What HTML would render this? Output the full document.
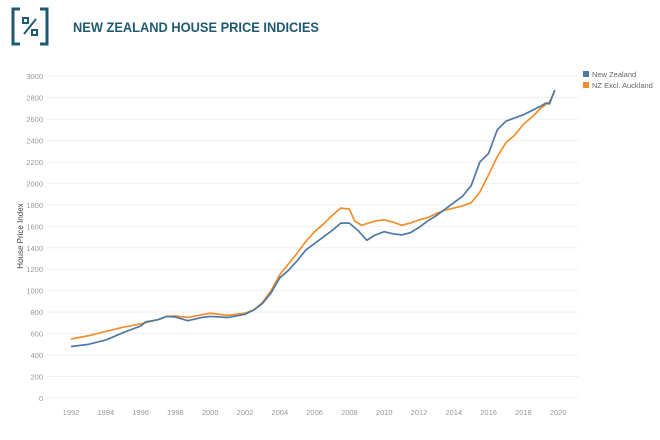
<!DOCTYPE html>
<html><head><meta charset="utf-8"><style>
body{margin:0;background:#fff;font-family:"Liberation Sans",sans-serif}
svg text{font-family:"Liberation Sans",sans-serif}
</style></head><body>
<svg width="660" height="435">
<g fill="none" stroke="#1e5b73" stroke-width="3">
<path d="M20,9 H13 V44 H20 M40,9 H47 V44 H40"/>
<rect x="23" y="18" width="5" height="5" stroke-width="2"/><rect x="32" y="30" width="5" height="5" stroke-width="2"/>
<line x1="24" y1="34" x2="36" y2="19" stroke-width="2"/></g>
<text x="73" y="32" font-size="14" font-weight="bold" fill="#1e5b73" textLength="246" lengthAdjust="spacingAndGlyphs">NEW ZEALAND HOUSE PRICE INDICIES</text>
<g id="grid"></g><g id="axes"></g><g id="lines"></g>
<text transform="translate(23,236) rotate(-90)" text-anchor="middle" font-size="8" fill="#444">House Price Index</text>
<g>
<rect x="583" y="71" width="6" height="6" fill="#4e79a7"/>
<text x="592" y="77" font-size="7.5" fill="#666">New Zealand</text>
<rect x="583" y="82" width="6" height="6" fill="#f28e2b"/>
<text x="592" y="88" font-size="7.5" fill="#666">NZ Excl. Auckland</text>
</g>
</svg>
<script>
const yTicks=[0,200,400,600,800,1000,1200,1400,1600,1800,2000,2200,2400,2600,2800,3000];
const xTicks=[1992,1994,1996,1998,2000,2002,2004,2006,2008,2010,2012,2014,2016,2018,2020];
const nzYears=[1992,1993,1994,1995,1996,1996.3,1997,1997.5,1998,1998.7,1999.5,2000,2001,2002,2002.5,2003,2003.5,2004,2004.5,2005,2005.5,2006,2006.5,2007,2007.5,2008,2008.5,2009,2009.5,2010,2010.5,2011,2011.5,2012,2012.5,2013,2013.5,2014,2014.5,2015,2015.5,2016,2016.5,2017,2017.5,2018,2018.5,2019,2019.3,2019.5,2019.8];
const nzValues=[480,500,540,610,670,710,730,760,755,720,750,760,750,780,820,880,980,1120,1190,1280,1380,1440,1500,1560,1630,1630,1560,1470,1520,1550,1530,1520,1540,1590,1650,1700,1760,1820,1880,1980,2200,2280,2500,2580,2610,2640,2680,2720,2750,2740,2870];
const exYears=[1992,1993,1994,1995,1996,1997,1997.5,1998,1998.7,1999.5,2000,2001,2002,2002.5,2003,2003.5,2004,2004.5,2005,2005.5,2006,2006.5,2007,2007.5,2008,2008.3,2008.7,2009.5,2010,2010.5,2011,2011.5,2012,2012.5,2013,2013.5,2014,2014.5,2015,2015.5,2016,2016.5,2017,2017.5,2018,2018.5,2019,2019.5,2019.8];
const exValues=[550,580,620,660,690,730,760,765,750,775,790,770,790,820,890,1000,1150,1250,1350,1460,1550,1620,1700,1770,1760,1650,1610,1650,1660,1640,1610,1630,1660,1680,1720,1750,1770,1790,1820,1920,2080,2250,2380,2450,2550,2620,2700,2760,2860];
const NS="http://www.w3.org/2000/svg";
const xs=v=>71+(v-1992)*17.4, ys=v=>398-v*0.1073;
function mk(t,a,p){const e=document.createElementNS(NS,t);for(const k in a)e.setAttribute(k,a[k]);document.getElementById(p).appendChild(e);return e;}
yTicks.forEach(v=>{
 const l=mk('line',{x1:47,x2:578,y1:ys(v),y2:ys(v),stroke:'#efefef'},'grid');
 
 
 const t=mk('text',{x:43,y:ys(v)+3,'text-anchor':'end','font-size':7.5,fill:'#999'},'axes');t.textContent=v;
 
 
});
xTicks.forEach(v=>{
 const t=mk('text',{x:xs(v),y:415,'text-anchor':'middle','font-size':7.5,fill:'#999'},'axes');t.textContent=v;
 
 
});
function line(X,Y,c,n){
 const p=mk('polyline',{points:X.map((x,i)=>xs(x)+','+ys(Y[i])).join(' '),fill:'none',stroke:c,'stroke-width':1.7,'stroke-linejoin':'round'},'lines');
 
 
}
line(exYears,exValues,'#f28e2b','line-nz-excl-auckland');
line(nzYears,nzValues,'#4e79a7','line-new-zealand');
</script>
</body></html>
